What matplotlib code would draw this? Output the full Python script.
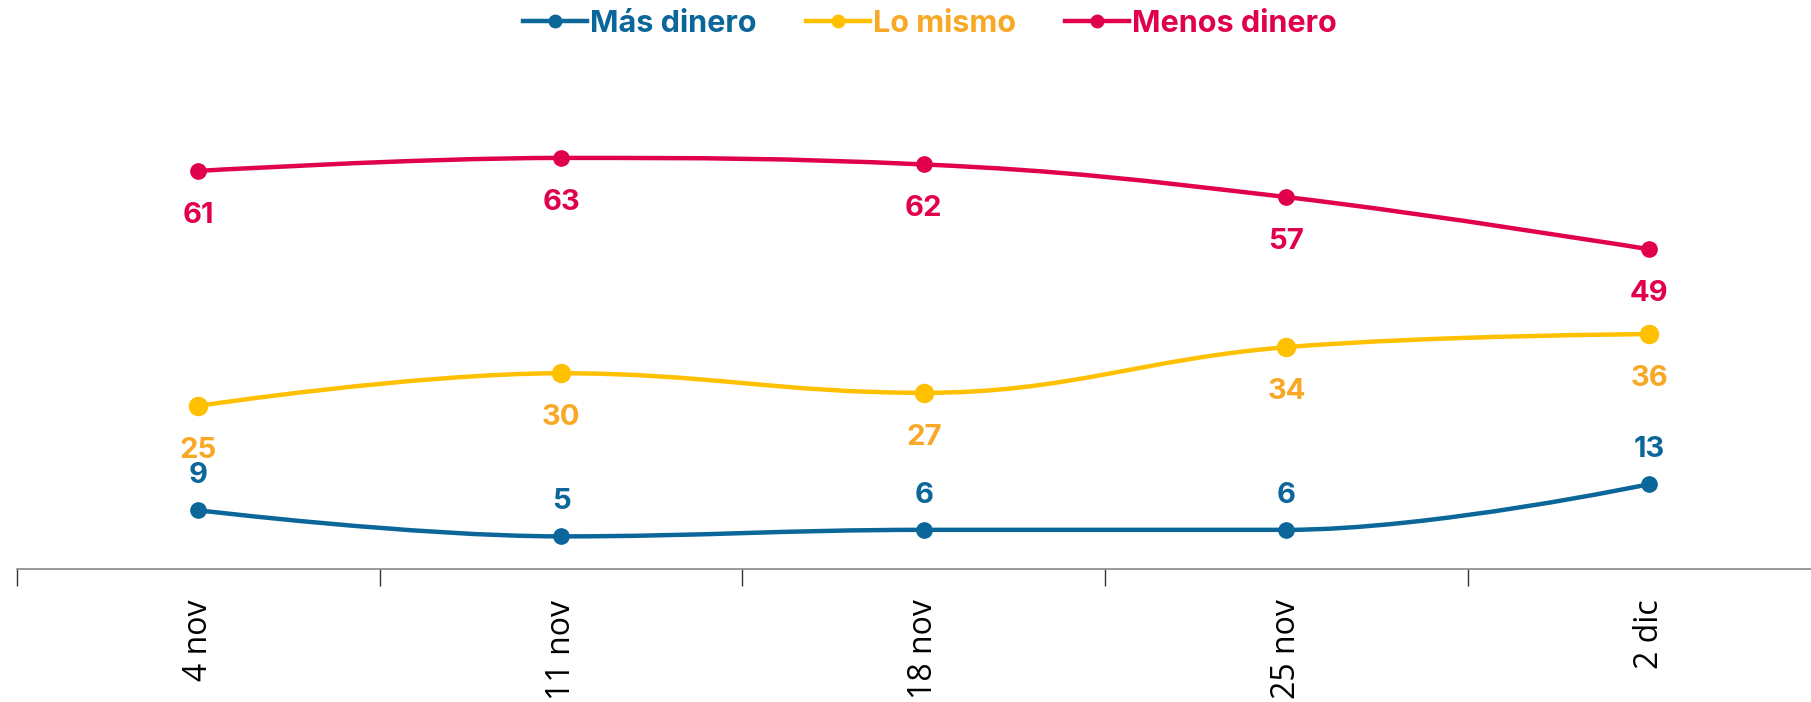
import matplotlib
matplotlib.use("Agg")
import matplotlib.pyplot as plt
from matplotlib.path import Path
from matplotlib.patches import PathPatch
from matplotlib.lines import Line2D
import numpy as np

categories = ["4 nov", "11 nov", "18 nov", "25 nov", "2 dic"]
mas_dinero = [9, 5, 6, 6, 13]
lo_mismo = [25, 30, 27, 34, 36]
menos_dinero = [61, 63, 62, 57, 49]

series = [
    ("Más dinero", mas_dinero, "#0B6699", "#0B6699", 11, 25),
    ("Lo mismo", lo_mismo, "#FFC000", "#F9A825", 13, -32),
    ("Menos dinero", menos_dinero, "#E0004D", "#E0004D", 11, -32),
]

BOLD = ["Inter", "Lato", "DejaVu Sans"]
REG = ["Open Sans", "DejaVu Sans"]


def spline_path(xs, ys, smoothing=1.5):
    n = len(xs)
    denom = smoothing + 1
    lc = [(xs[i], ys[i]) for i in range(n)]
    rc = [(xs[i], ys[i]) for i in range(n)]
    for i in range(1, n - 1):
        px, py = xs[i], ys[i]
        lx, ly = xs[i - 1], ys[i - 1]
        nx, ny = xs[i + 1], ys[i + 1]
        lcx = (smoothing * px + lx) / denom
        lcy = (smoothing * py + ly) / denom
        rcx = (smoothing * px + nx) / denom
        rcy = (smoothing * py + ny) / denom
        corr = 0
        if rcx != lcx:
            corr = (rcy - lcy) * (rcx - px) / (rcx - lcx) + py - rcy
        lcy += corr
        rcy += corr
        if lcy > ly and lcy > py:
            lcy = max(ly, py); rcy = 2 * py - lcy
        elif lcy < ly and lcy < py:
            lcy = min(ly, py); rcy = 2 * py - lcy
        if rcy > ny and rcy > py:
            rcy = max(ny, py); lcy = 2 * py - rcy
        elif rcy < ny and rcy < py:
            rcy = min(ny, py); lcy = 2 * py - rcy
        lc[i] = (lcx, lcy)
        rc[i] = (rcx, rcy)
    verts = [(xs[0], ys[0])]
    codes = [Path.MOVETO]
    for i in range(1, n):
        verts += [rc[i - 1], lc[i], (xs[i], ys[i])]
        codes += [Path.CURVE4] * 3
    return Path(verts, codes)


fig = plt.figure(figsize=(18.11, 7.02), dpi=100)
ax = fig.add_axes([17 / 1811, 1 - 569 / 702, 1 - 17 / 1811, 522 / 702])
x = np.arange(len(categories))

for name, vals, lc_, tc, ms, off in series:
    p = spline_path(list(x.astype(float)), [float(v) for v in vals])
    ax.add_patch(PathPatch(p, facecolor="none", edgecolor=lc_, lw=3.2, capstyle="round", zorder=3))
    ax.plot(x, vals, ls="none", marker="o", ms=ms, color=lc_, zorder=4, clip_on=False)
    for xi, v in zip(x, vals):
        ax.annotate(str(v), (xi, v), xytext=(0, off), textcoords="offset points",
                    ha="center", va="center", fontsize=21, fontweight="bold",
                    color=tc, family=BOLD)

ax.set_xticks(x)
ax.set_xticklabels(categories, rotation=90, fontsize=23, family=REG, color="#000000")
ax.set_xticks(np.arange(-0.5, 5, 1), minor=True)
ax.set_xlim(-0.5, -0.5 + 1794 / 362.7)
ax.set_ylim(0, 80)
ax.tick_params(axis="x", which="major", length=0, pad=22)
ax.tick_params(axis="x", which="minor", length=12, width=1, color="#333333")
ax.set_yticks([])
for s in ["top", "right", "left"]:
    ax.spines[s].set_visible(False)
ax.spines["bottom"].set_color("#888888")
ax.spines["bottom"].set_linewidth(1.2)

handles = [Line2D([0], [0], color=c, lw=3.2, marker="o", ms=9) for _, _, c, _, _, _ in series]
leg = fig.legend(handles, [s[0] for s in series], loc="center", bbox_to_anchor=(930 / 1811, 1 - 24 / 702),
                 ncol=3, frameon=False, handlelength=2.1, handletextpad=0.1, columnspacing=1.6,
                 prop={"family": BOLD, "weight": "bold", "size": 22})
for t, s in zip(leg.get_texts(), series):
    t.set_color(s[3])

fig.savefig("out.png", dpi=100)
